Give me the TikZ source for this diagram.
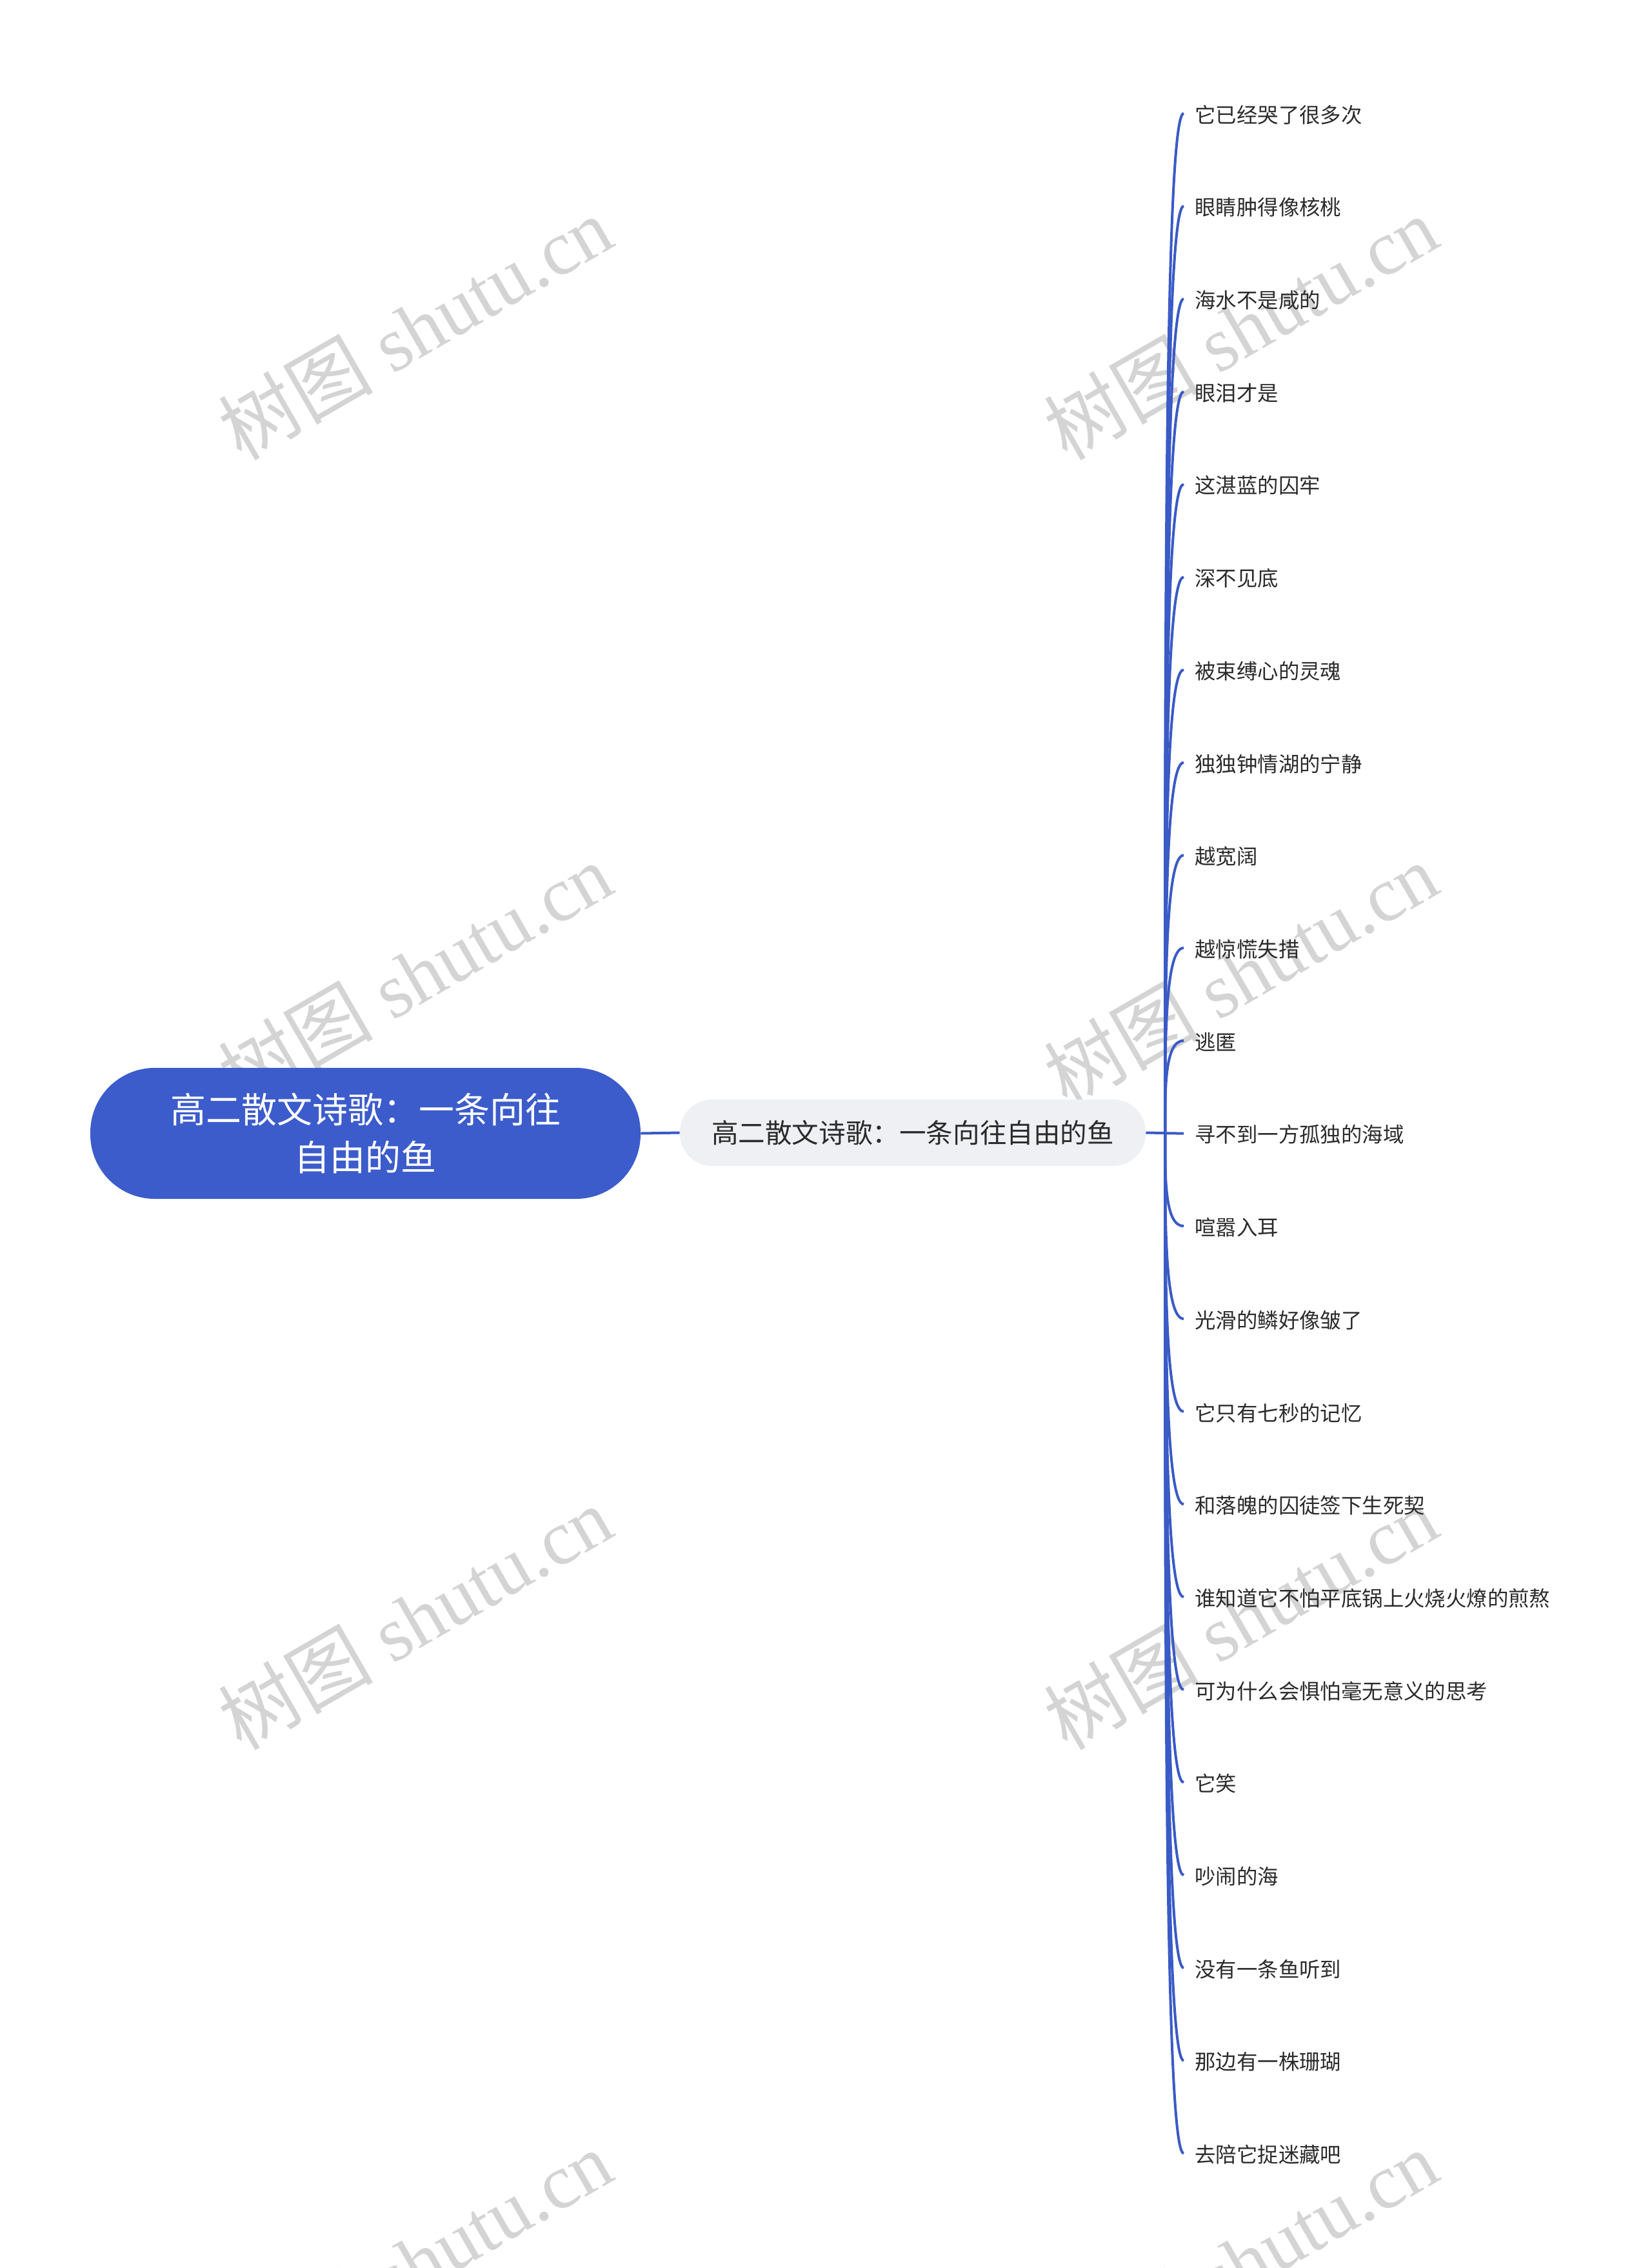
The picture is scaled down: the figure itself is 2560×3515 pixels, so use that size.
\documentclass[tikz,border=0pt]{standalone}
\usepackage{fontspec}
\setmainfont{Liberation Serif}
\newfontfamily\cjk{Noto Sans CJK SC}
\definecolor{mblue}{HTML}{3C5CCB}
\definecolor{lineblue}{HTML}{3A5AC6}
\definecolor{midfill}{HTML}{EEF0F4}
\definecolor{txt}{HTML}{2B2B2B}
\definecolor{wmgray}{HTML}{D4D4D4}
\begin{document}
\begin{tikzpicture}[x=0.5pt,y=-0.5pt,
  rootbox/.style={fill=mblue, draw=none, rounded corners=50pt, minimum width=426.5pt, minimum height=101.5pt,
    text=white, align=center, font=\cjk\fontsize{27.5pt}{37pt}\selectfont, inner sep=0pt},
  midbox/.style={fill=midfill, draw=none, rounded corners=25pt, minimum width=361pt, minimum height=51.5pt,
    text=txt, font=\cjk\fontsize{20.8pt}{25pt}\selectfont, inner sep=0pt},
  leaf/.style={anchor=west, inner sep=0pt, text=txt, font=\cjk\fontsize{16.2pt}{20pt}\selectfont},
  conn/.style={draw=lineblue, line width=2pt},
  wm/.style={text=wmgray, rotate=30, inner sep=0pt, font=\fontsize{60pt}{70pt}\selectfont}
]
\useasboundingbox (0,0) rectangle (2560,3515);
% watermarks
\foreach \wx in {643,1923}{
  \foreach \wy in {508,1510,2507,3505}{
    \node[wm] (wm-\wx-\wy) at (\wx,\wy) {{\cjk 树图} shutu.cn};
  }
}
% main nodes
\node[rootbox] (root) at (566.5,1756.5) {高二散文诗歌：一条向往\\自由的鱼};
\node[midbox] (mid) at (1415,1755.5) {高二散文诗歌：一条向往自由的鱼};
\coordinate (sp) at (1806,1756);
\draw[conn] (root.east) -- (mid.west);
\draw[conn] (mid.east) -- (sp);
% leaves
\foreach \t [count=\i] in {它已经哭了很多次,眼睛肿得像核桃,海水不是咸的,眼泪才是,这湛蓝的囚牢,深不见底,被束缚心的灵魂,独独钟情湖的宁静,越宽阔,越惊慌失措,逃匿,寻不到一方孤独的海域,喧嚣入耳,光滑的鳞好像皱了,它只有七秒的记忆,和落魄的囚徒签下生死契,谁知道它不怕平底锅上火烧火燎的煎熬,可为什么会惧怕毫无意义的思考,它笑,吵闹的海,没有一条鱼听到,那边有一株珊瑚,去陪它捉迷藏吧}{
  \pgfmathsetmacro{\ly}{1756.5+(\i-12)*143.7}
  \pgfmathsetmacro{\my}{(1756+\ly)/2}
  \node[leaf] (l\i) at (1852,\ly+2) {\t};
  \coordinate (e\i) at (1835,\ly);
  \draw[conn] (sp) .. controls (1806,\my) and (1806,\ly) .. (e\i);
}
\end{tikzpicture}
\end{document}
